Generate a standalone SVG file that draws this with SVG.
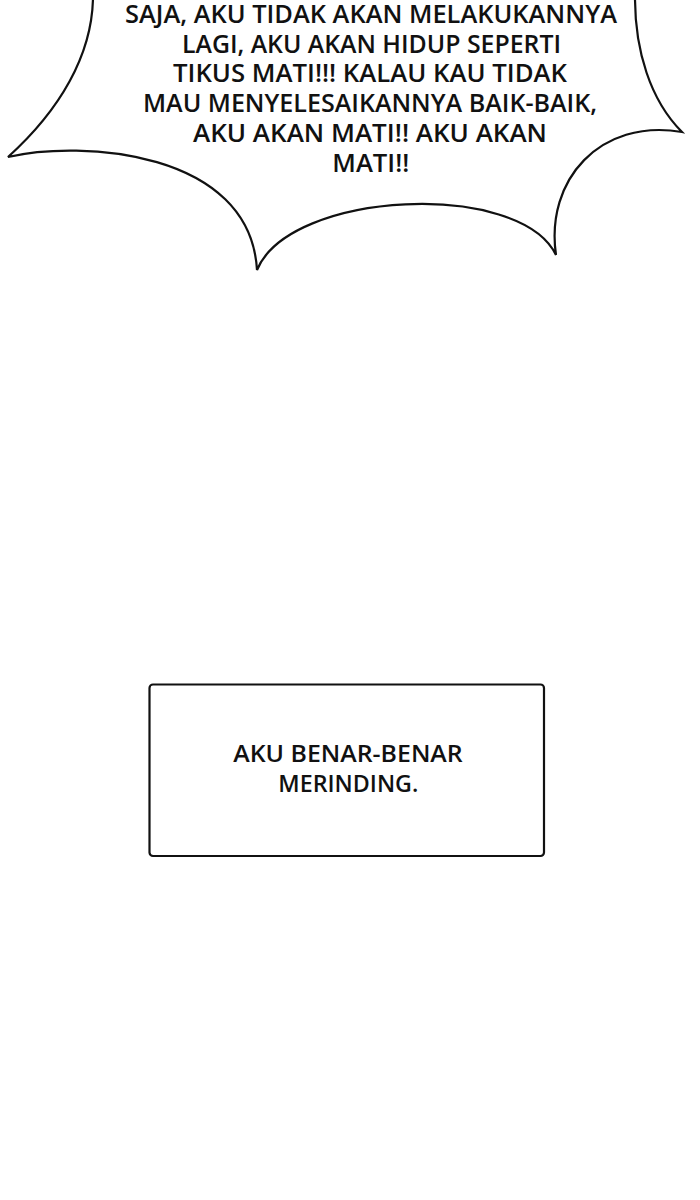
<svg xmlns="http://www.w3.org/2000/svg" width="700" height="1200" viewBox="0 0 700 1200">
<style>
.bg{fill:#ffffff}
.outline{fill:#ffffff;stroke:#111111;stroke-width:2.2;stroke-linejoin:miter}
.t{font-family:"Open Sans","Noto Sans","DejaVu Sans",sans-serif;font-size:25px;fill:#111111;font-weight:600}
.bt{font-family:"Open Sans","Noto Sans","DejaVu Sans",sans-serif;font-size:23.5px;fill:#111111;font-weight:600}
</style>
<rect class="bg" x="0" y="0" width="700" height="1200"/>
<g id="bubble">
<path class="outline" d="M 93,-2 C 92,55 60,110 8,157 C 80,140 250,150 257,270 C 290,190 520,180 556,255 C 545,180 600,118 682,132 C 650,100 635,50 635,-2 L 635,-6 L 93,-6 Z"/>
<text class="t">
<tspan x="125" y="22.7" textLength="492" lengthAdjust="spacingAndGlyphs">SAJA, AKU TIDAK AKAN MELAKUKANNYA</tspan>
<tspan x="182" y="52.7" textLength="379" lengthAdjust="spacingAndGlyphs">LAGI, AKU AKAN HIDUP SEPERTI</tspan>
<tspan x="173" y="81.7" textLength="394" lengthAdjust="spacingAndGlyphs">TIKUS MATI!!! KALAU KAU TIDAK</tspan>
<tspan x="143" y="111.7" textLength="454" lengthAdjust="spacingAndGlyphs">MAU MENYELESAIKANNYA BAIK-BAIK,</tspan>
<tspan x="193" y="141.7" textLength="354" lengthAdjust="spacingAndGlyphs">AKU AKAN MATI!! AKU AKAN</tspan>
<tspan x="332.3" y="171.7" textLength="77" lengthAdjust="spacingAndGlyphs">MATI!!</tspan>
</text>
</g>
<g id="caption-box">
<rect class="outline" x="149.5" y="684.5" width="394.5" height="171.5" rx="3.5" ry="3.5"/>
<text class="bt">
<tspan x="233.3" y="762.3" textLength="229.4" lengthAdjust="spacingAndGlyphs">AKU BENAR-BENAR</tspan>
<tspan x="278.3" y="791.7" textLength="140" lengthAdjust="spacingAndGlyphs">MERINDING.</tspan>
</text>
</g>
<g id="connectors"></g>
</svg>
